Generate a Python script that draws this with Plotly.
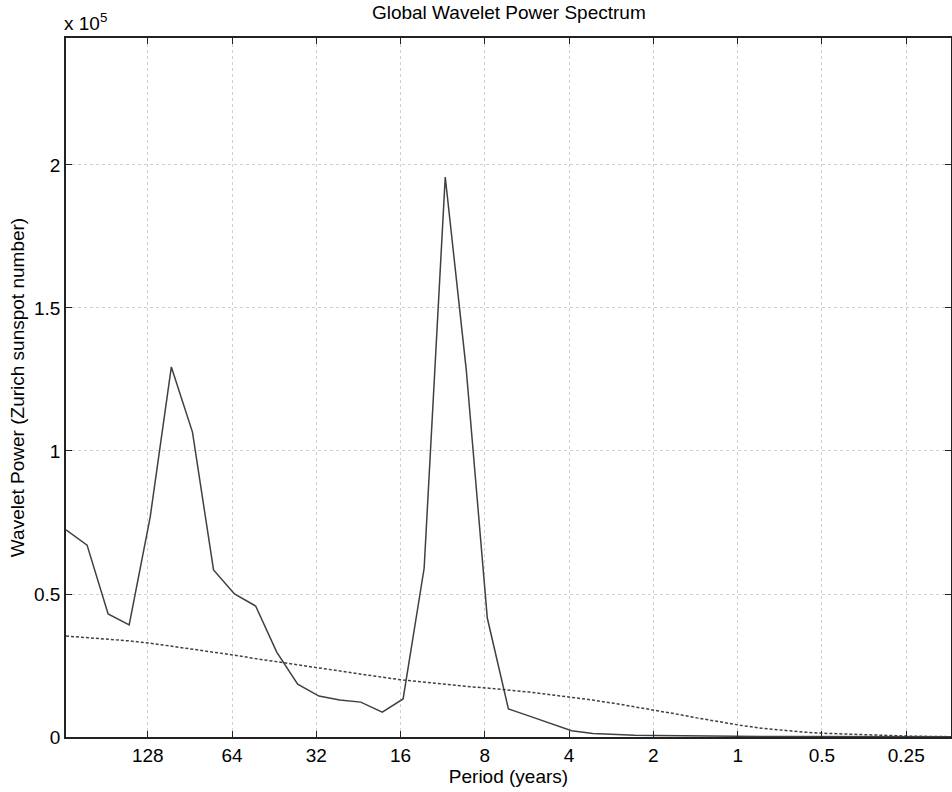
import math
import plotly.graph_objects as go

# Fourier periods (years) of the wavelet scales
period = [250.7, 210.8, 177.3, 149.1, 125.4, 105.4, 88.6, 74.5, 62.7, 52.7,
          44.3, 37.3, 31.3, 26.4, 22.2, 18.6, 15.67, 13.18, 11.08, 9.32,
          7.84, 6.59, 5.54, 4.66, 3.92, 3.29, 2.77, 2.33, 1.96, 1.65,
          1.385, 1.165, 0.980, 0.824, 0.693, 0.583, 0.490, 0.412, 0.346, 0.291,
          0.245, 0.206, 0.173]

# Global wavelet power (units of 1e5)
global_ws = [0.724, 0.671, 0.430, 0.392, 0.770, 1.294, 1.066, 0.584, 0.500, 0.458,
             0.297, 0.185, 0.143, 0.129, 0.122, 0.087, 0.133, 0.590, 1.958, 1.283,
             0.416, 0.098, 0.073, 0.048, 0.022, 0.012, 0.008, 0.006, 0.005, 0.004,
             0.0035, 0.003, 0.0025, 0.002, 0.0018, 0.0015, 0.0012, 0.001, 0.0009, 0.0008,
             0.0007, 0.0006, 0.0005]

# 95% significance level (units of 1e5)
global_signif = [0.353, 0.348, 0.342, 0.336, 0.328, 0.318, 0.308, 0.297, 0.286, 0.274,
                 0.263, 0.251, 0.240, 0.229, 0.219, 0.209, 0.199, 0.191, 0.184, 0.177,
                 0.171, 0.165, 0.157, 0.148, 0.139, 0.129, 0.118, 0.106, 0.093, 0.080,
                 0.066, 0.053, 0.041, 0.031, 0.023, 0.017, 0.013, 0.010, 0.007, 0.005,
                 0.003, 0.002, 0.001]

x_tickvals = [128, 64, 32, 16, 8, 4, 2, 1, 0.5, 0.25]
x_ticktext = ["128", "64", "32", "16", "8", "4", "2", "1", "0.5", "0.25"]
y_tickvals = [0, 0.5, 1, 1.5, 2]
y_ticktext = ["0", "0.5", "1", "1.5", "2"]
scale = 1e5

font = "Liberation Sans, Arial, Helvetica, sans-serif"
fs = 19

fig = go.Figure()
fig.add_trace(go.Scatter(
    x=period, y=[v * scale for v in global_ws], mode="lines",
    line=dict(color="#404040", width=1.5), showlegend=False))
fig.add_trace(go.Scatter(
    x=period, y=[v * scale for v in global_signif], mode="lines",
    line=dict(color="#404040", width=1.5, dash="3px,2px"), showlegend=False))

fig.update_layout(
    width=952, height=792,
    margin=dict(l=66, r=1, t=38, b=55),
    paper_bgcolor="white", plot_bgcolor="white",
    font=dict(family=font, size=fs, color="black"),
    title=dict(text="Global Wavelet Power Spectrum", x=0.5345, xanchor="center",
               yref="container", y=0.984, yanchor="middle",
               font=dict(size=fs, family=font)),
    xaxis=dict(
        type="log", automargin=False,
        range=[math.log10(max(period)), math.log10(min(period))],
        tickvals=x_tickvals, ticktext=x_ticktext,
        ticks="inside", ticklen=6, tickcolor="#222", tickwidth=1,
        showline=True, linecolor="#222", linewidth=1.5, mirror="ticks",
        showgrid=True, gridcolor="#cfcfcf", griddash="dot", gridwidth=1,
        zeroline=False, tickfont=dict(size=fs),
        title=dict(text="Period (years)", standoff=2, font=dict(size=fs)),
    ),
    yaxis=dict(
        range=[0, 2.444 * scale], automargin=False,
        tickvals=[v * scale for v in y_tickvals], ticktext=y_ticktext,
        ticks="inside", ticklen=6, tickcolor="#222", tickwidth=1,
        showline=True, linecolor="#222", linewidth=1.5, mirror="ticks",
        showgrid=True, gridcolor="#cfcfcf", griddash="dot", gridwidth=1,
        zeroline=False, tickfont=dict(size=fs),
        title=dict(text="Wavelet Power (Zurich sunspot number)", standoff=4,
                   font=dict(size=fs)),
    ),
    annotations=[dict(
        text="x 10<sup>5</sup>", xref="paper", yref="paper", x=0, y=1,
        xanchor="left", yanchor="bottom", yshift=2, xshift=-4, showarrow=False,
        font=dict(size=fs, family=font))],
)

fig.write_html("out.html", config={"displayModeBar": False},
               post_script="document.body.style.margin='0px';document.body.style.overflow='hidden';")
